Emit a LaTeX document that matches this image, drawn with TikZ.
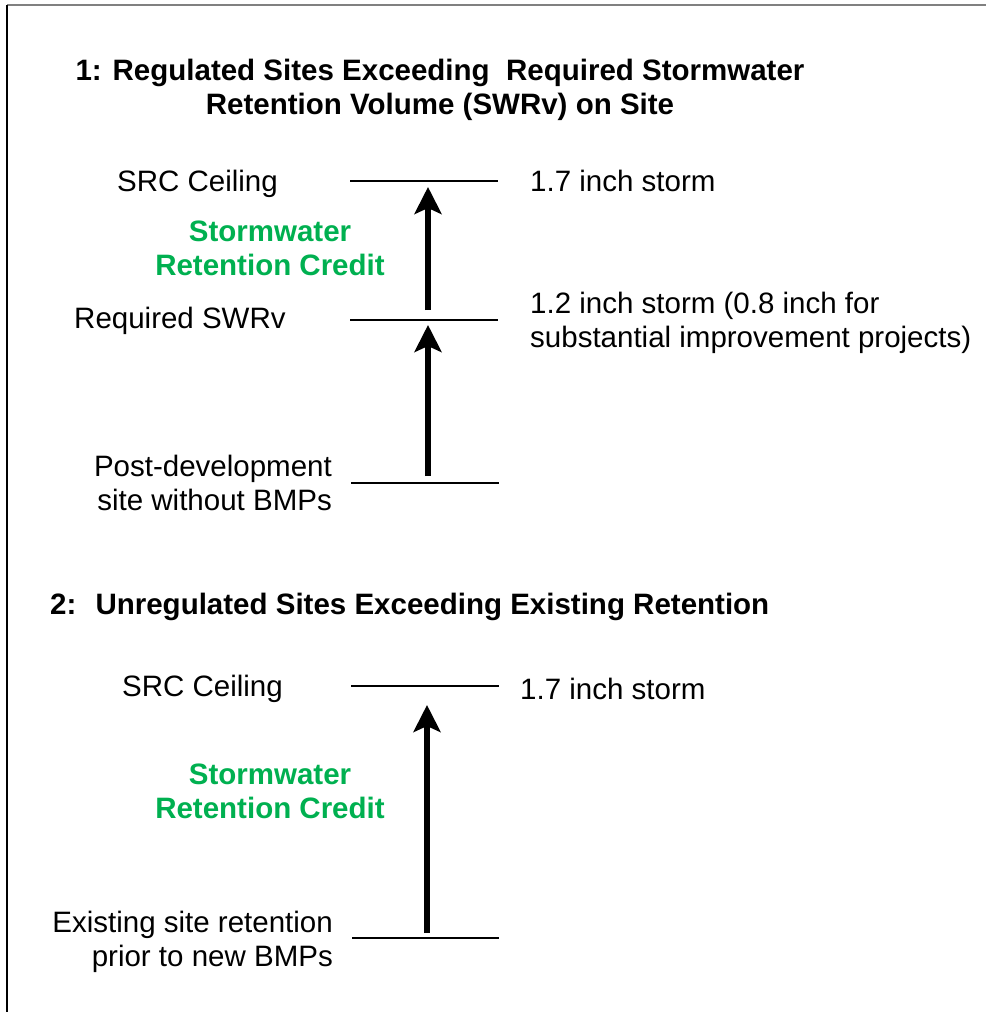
\documentclass[tikz,border=0pt]{standalone}
\usepackage{fontspec}
\setmainfont{Liberation Sans}
\usetikzlibrary{arrows.meta}
\definecolor{creditgreen}{RGB}{0,176,80}
\tikzset{every node/.style={font=\fontsize{29.5}{34}\selectfont,inner sep=0pt},
 level/.style={line width=2.6pt},
 rise/.style={line width=6pt,arrows={-Stealth[length=27pt,width=27pt,inset=6pt]}},
 heading/.style={font=\fontsize{29.5}{34}\selectfont\bfseries,align=center},
 credit/.style={font=\fontsize{29.5}{34}\selectfont\bfseries,text=creditgreen,align=center}}

\begin{document}
\begin{tikzpicture}[x=1pt,y=-1pt]
\useasboundingbox (0,0) rectangle (986,1012);
\draw[line width=1.5pt,gray] (7,5)--(986,5);
\draw[line width=1.5pt] (7,5)--(7,1012);
% case 1
\node[heading] (titleA) at (440,90) {1: Regulated Sites Exceeding~ Required Stormwater\\Retention Volume (SWRv) on Site};
\coordinate (ceilAl) at (350,181); \coordinate (ceilAr) at (498,181);
\coordinate (reqAl) at (350,320); \coordinate (reqAr) at (498,320);
\coordinate (postAl) at (351,483); \coordinate (postAr) at (499,483);
\draw[level] (ceilAl)--(ceilAr);
\draw[level] (reqAl)--(reqAr);
\draw[level] (postAl)--(postAr);
\coordinate (riseAtop) at (428,187); \coordinate (riseAbot) at (428,310);
\coordinate (riseBtop) at (428,325); \coordinate (riseBbot) at (428,476);
\draw[rise] (riseAbot)--(riseAtop);
\draw[rise] (riseBbot)--(riseBtop);
\node[anchor=base west] (ceilA) at (117,191) {SRC Ceiling};
\node[anchor=base west] (stormA) at (530,191) {1.7 inch storm};
\node[credit] (creditA) at (270,248) {Stormwater\\Retention Credit};
\node[anchor=base west] (reqA) at (74,328) {Required SWRv};
\node[anchor=west,align=left] (stormReqA) at (530,323) {1.2 inch storm (0.8 inch for\\substantial improvement projects)};
\node[anchor=east,align=right] (postA) at (332,483) {Post-development\\site without BMPs};
% case 2
\node[heading,anchor=base west] (titleB) at (50,614) {2:~ Unregulated Sites Exceeding Existing Retention};
\coordinate (ceilBl) at (351,686); \coordinate (ceilBr) at (499,686);
\coordinate (existBl) at (352,938); \coordinate (existBr) at (499,938);
\draw[level] (ceilBl)--(ceilBr);
\draw[level] (existBl)--(existBr);
\coordinate (riseCtop) at (427,705); \coordinate (riseCbot) at (427,933);
\draw[rise] (riseCbot)--(riseCtop);
\node[anchor=base west] (ceilB) at (122,696) {SRC Ceiling};
\node[anchor=base west] (stormB) at (520,699) {1.7 inch storm};
\node[credit] (creditB) at (270,791) {Stormwater\\Retention Credit};
\node[anchor=east,align=right] (existB) at (333,942) {Existing site retention\\prior to new BMPs};
\end{tikzpicture}
\end{document}
